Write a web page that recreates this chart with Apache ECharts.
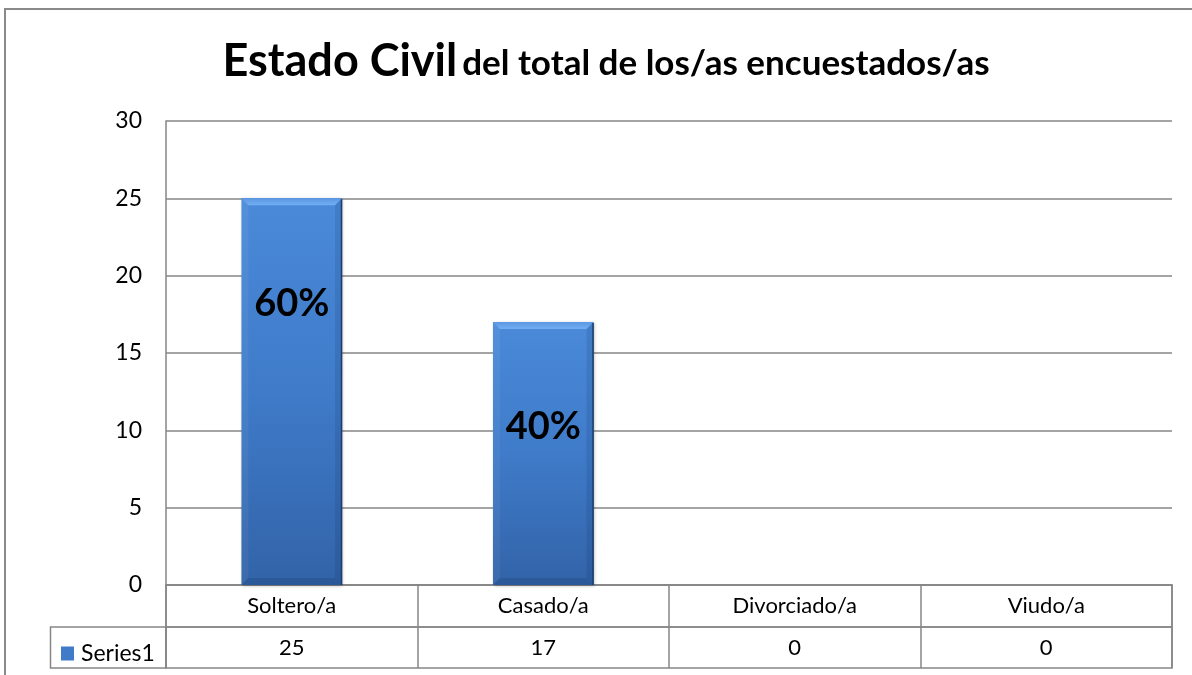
<!DOCTYPE html>
<html>
<head>
<meta charset="utf-8">
<script src="https://cdn.jsdelivr.net/npm/echarts@6/dist/echarts.min.js"></script>
<style>
  html, body { margin: 0; padding: 0; background: #fff; }
  #chart { width: 1192px; height: 675px; }
</style>
</head>
<body>
<div id="chart"></div>
<script>
// Estado civil de las personas encuestadas
const categories = ['Soltero/a', 'Casado/a', 'Divorciado/a', 'Viudo/a'];
const seriesName = 'Series1';
const values = [25, 17, 0, 0];
const yTicks = [0, 5, 10, 15, 20, 25, 30];

const total = values.reduce((a, b) => a + b, 0);
const FONT = 'Lato, "Open Sans", sans-serif';
const GRID_COLOR = '#868686';

const chart = echarts.init(document.getElementById('chart'), null, { renderer: 'canvas' });

const faceGradient = new echarts.graphic.LinearGradient(0, 0, 0, 1, [
  { offset: 0, color: '#4a8ad9' },
  { offset: 0.5, color: '#3f7bc9' },
  { offset: 1, color: '#3263a8' }
]);

function renderBar(params, api) {
  const idx = api.value(0);
  const v = api.value(1);
  const top = api.coord([idx, v]);
  const base = api.coord([idx, 0]);
  const w = api.size([1, 0])[0] * 0.4;
  const l = top[0] - w / 2, r = top[0] + w / 2, t = top[1], b = base[1];
  if (b - t < 0.5) return null;
  const bev = 7;
  const pct = Math.round(v / total * 100) + '%';
  return {
    type: 'group',
    children: [
      { type: 'rect', shape: { x: l, y: t, width: w, height: b - t },
        style: { fill: faceGradient, shadowBlur: 3, shadowColor: 'rgba(0,0,0,0.25)', shadowOffsetX: 1, shadowOffsetY: 1 } },
      { type: 'polygon', shape: { points: [[l, t], [r, t], [r - bev, t + bev], [l + bev, t + bev]] },
        style: { fill: new echarts.graphic.LinearGradient(0, 0, 0, 1, [
          { offset: 0, color: '#5b98e4' }, { offset: 1, color: '#72aef1' }]) } },
      { type: 'polygon', shape: { points: [[l, t], [l + bev, t + bev], [l + bev, b - bev], [l, b]] },
        style: { fill: 'rgba(255,255,255,0.05)' } },
      { type: 'polygon', shape: { points: [[r, t], [r, b], [r - bev, b - bev], [r - bev, t + bev]] },
        style: { fill: 'rgba(10,30,70,0.12)' } },
      { type: 'polygon', shape: { points: [[l, b], [l + bev, b - bev], [r - bev, b - bev], [r, b]] },
        style: { fill: 'rgba(10,30,70,0.15)' } },
      { type: 'line', shape: { x1: r - 0.5, y1: t + 1, x2: r - 0.5, y2: b },
        style: { stroke: '#1e3d68', lineWidth: 1.5 } },
      { type: 'text', x: (l + r) / 2, y: t + 105,
        style: { text: pct, fill: '#000', font: 'bold 38px ' + FONT, align: 'center', verticalAlign: 'middle' } }
    ]
  };
}

const option = {
  animation: false,
  backgroundColor: '#fff',
  title: {
    text: '{a|Estado Civil} {b|del total de los/as encuestados/as}',
    left: 601,
    textAlign: 'center',
    top: 25,
    textStyle: {
      rich: {
        a: { fontFamily: FONT, fontWeight: 'bold', fontSize: 45, color: '#000', verticalAlign: 'bottom', lineHeight: 54 },
        b: { fontFamily: FONT, fontWeight: 'bold', fontSize: 35, color: '#000', verticalAlign: 'bottom', lineHeight: 54, padding: [0, 0, 3, 0] }
      }
    }
  },
  legend: {
    data: [seriesName],
    left: 56,
    top: 637,
    icon: 'rect',
    itemWidth: 13,
    itemHeight: 14,
    itemGap: 8,
    textStyle: { fontFamily: FONT, fontSize: 23, color: '#000', padding: [0, 0, 0, 2] }
  },
  grid: [
    { left: 166, right: 20, top: 121, height: 464 },
    { left: 166, right: 20, top: 585, height: 42, show: true, borderColor: GRID_COLOR, borderWidth: 1.5 },
    { left: 166, right: 20, top: 627, height: 41, show: true, borderColor: GRID_COLOR, borderWidth: 1.5 }
  ],
  xAxis: [
    { type: 'category', gridIndex: 0, data: categories,
      axisLine: { show: true, lineStyle: { color: GRID_COLOR, width: 1.5 } },
      axisTick: { show: false }, axisLabel: { show: false }, splitLine: { show: false } },
    { type: 'category', gridIndex: 1, data: categories,
      axisLine: { show: false }, axisTick: { show: false },
      splitLine: { show: true, lineStyle: { color: GRID_COLOR, width: 1.5 } },
      axisLabel: { inside: true, margin: 21, verticalAlign: 'middle', interval: 0,
        fontFamily: FONT, fontSize: 22, color: '#000' } },
    { type: 'category', gridIndex: 2, data: categories,
      axisLine: { show: false }, axisTick: { show: false },
      splitLine: { show: true, lineStyle: { color: GRID_COLOR, width: 1.5 } },
      axisLabel: { inside: true, margin: 20, verticalAlign: 'middle', interval: 0,
        formatter: (val, i) => String(values[i]),
        fontFamily: FONT, fontSize: 22, color: '#000' } }
  ],
  yAxis: [
    { type: 'value', gridIndex: 0, min: yTicks[0], max: yTicks[yTicks.length - 1], interval: 5,
      axisLine: { show: true, lineStyle: { color: GRID_COLOR, width: 1.5 } },
      axisTick: { show: false },
      axisLabel: { margin: 24, fontFamily: FONT, fontSize: 23, color: '#000' },
      splitLine: { show: true, lineStyle: { color: GRID_COLOR, width: 1.5 } } },
    { type: 'value', gridIndex: 1, show: false },
    { type: 'value', gridIndex: 2, show: false }
  ],
  series: [
    {
      name: seriesName,
      type: 'custom',
      xAxisIndex: 0,
      yAxisIndex: 0,
      itemStyle: { color: '#3f7bc9' },
      encode: { x: 0, y: 1 },
      data: values.map((v, i) => [i, v]),
      renderItem: renderBar
    }
  ],
  graphic: [
    { type: 'rect', shape: { x: 5, y: 9, width: 1210, height: 700 },
      style: { fill: 'none', stroke: '#8a8a8a', lineWidth: 2 }, z: -1 },
    { type: 'rect', shape: { x: 50.5, y: 627, width: 115.5, height: 41 },
      style: { fill: 'none', stroke: GRID_COLOR, lineWidth: 1.5 } }
  ]
};

chart.setOption(option);
</script>
</body>
</html>
